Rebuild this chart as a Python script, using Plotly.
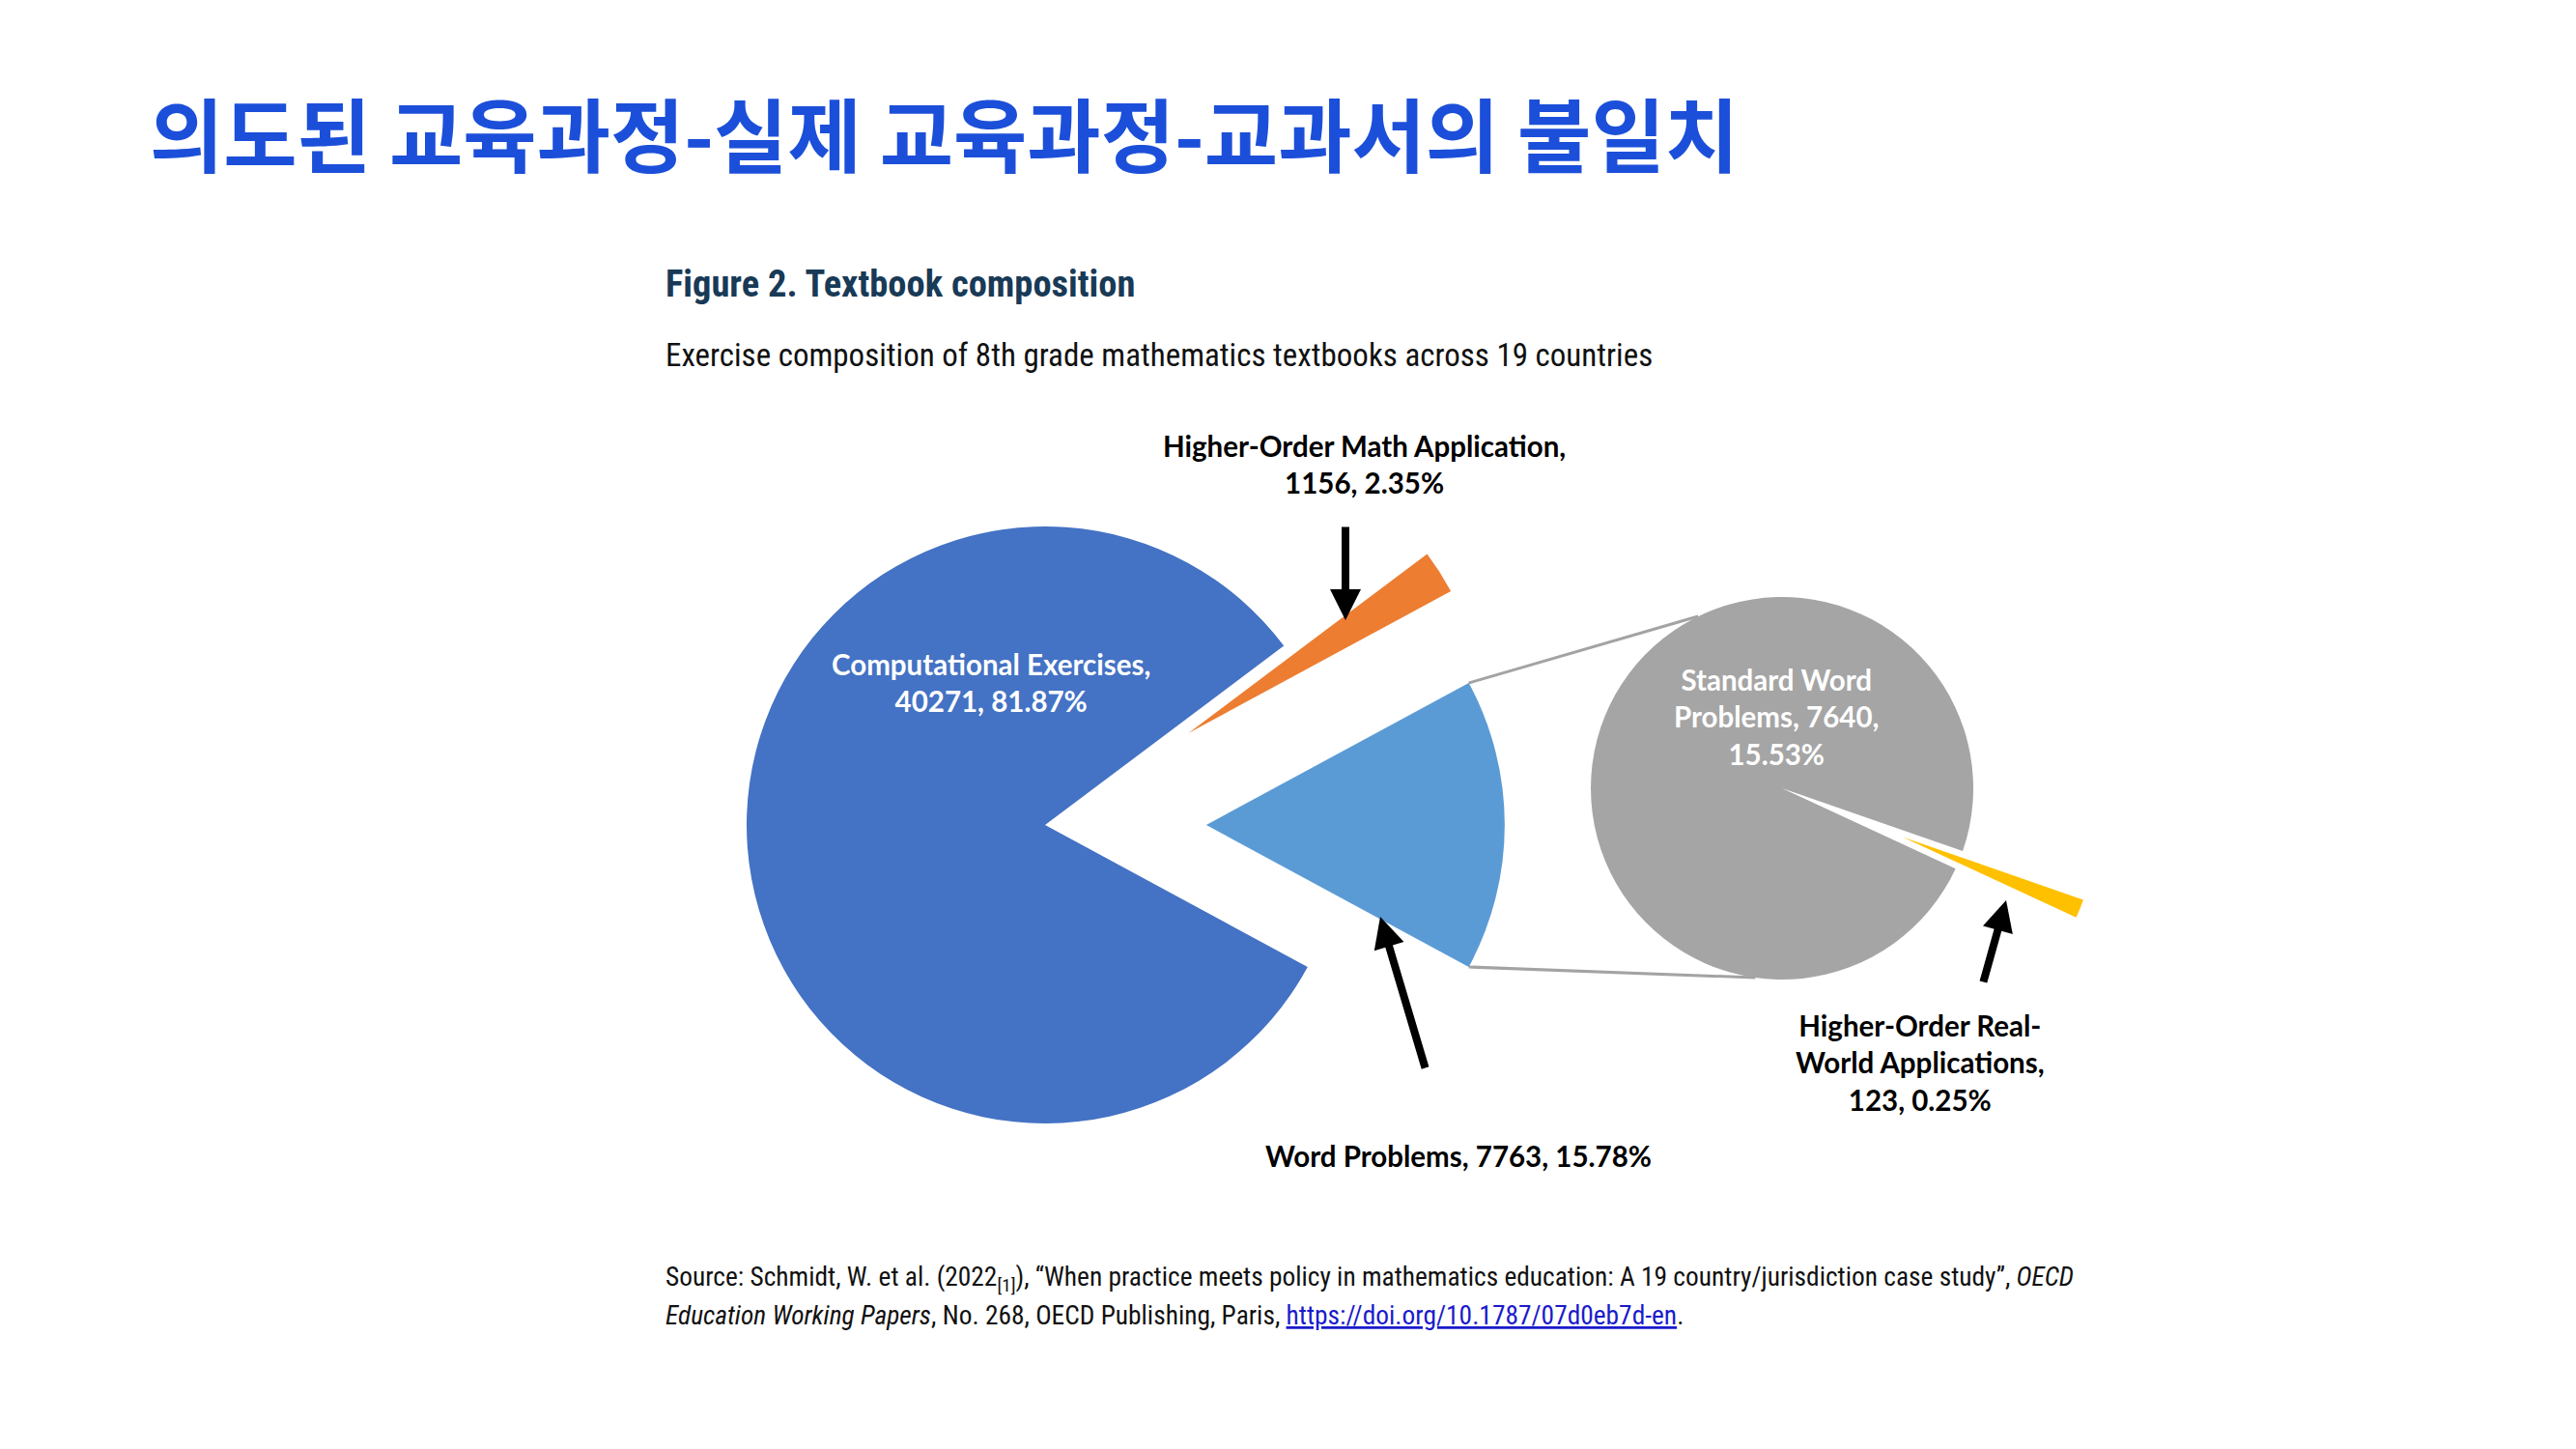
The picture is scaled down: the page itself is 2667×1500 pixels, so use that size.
import math
import plotly.graph_objects as go

# ---------------- data ----------------
main_labels = ["Word Problems", "Higher-Order Math Application", "Computational Exercises"]
main_values = [7763, 1156, 40271]
sub_labels = ["Higher-Order Real-World Applications", "Standard Word Problems"]
sub_values = [123, 7640]

page_title = "의도된 교육과정-실제 교육과정-교과서의 불일치"
fig_title = "Figure 2. Textbook composition"
fig_subtitle = "Exercise composition of 8th grade mathematics textbooks across 19 countries"
source_line1 = ("Source: Schmidt, W. et al. (2022<sub>[1]</sub>), \u201cWhen practice meets policy in "
                "mathematics education: A 19 country/jurisdiction case study\u201d, <i>OECD</i>")
source_line2_pre = "<i>Education Working Papers</i>, No. 268, OECD Publishing, Paris, "
source_url = "https://doi.org/10.1787/07d0eb7d-en"

# ---------------- style / layout ----------------
W, H = 2667, 1500
main_colors = ["#5B9BD5", "#ED7D31", "#4472C4"]
sub_colors = ["#FFC000", "#A5A5A5"]
main_pull = [0.54, 0.57, 0.0]
sub_pull = [0.68, 0.0]
main_center, main_r = (1082, 854), 309
sub_center, sub_r = (1845, 816), 198
sub_mid_angle = -22.0          # math degrees of the pulled small slice
conn_angles = (116.0, -98.0)   # where connectors touch the secondary pie

LABEL_FONT = "Lato, 'Open Sans', sans-serif"
NARROW_FONT = "'Liberation Sans Narrow', 'Arial Narrow', 'Roboto Condensed', 'Liberation Sans', sans-serif"


def px(x):
    return x / W


def py(y):
    return 1 - y / H


def domain_for(center, r, pulls):
    half = r * (1 + max(pulls))
    cx, cy = center
    return dict(x=[px(cx - half), px(cx + half)], y=[py(cy + half), py(cy - half)])


main_total = sum(main_values)
wp_span = 360.0 * main_values[0] / main_total
rot_main = 90.0 - wp_span / 2.0
sub_span = 360.0 * sub_values[0] / sum(sub_values)
rot_sub = 90.0 - (sub_mid_angle + sub_span / 2.0)

fig = go.Figure()
fig.add_trace(go.Pie(
    labels=main_labels, values=main_values, sort=False, direction="counterclockwise",
    rotation=rot_main, pull=main_pull, marker=dict(colors=main_colors, line=dict(width=0)),
    textinfo="none", hoverinfo="label+value+percent", showlegend=False,
    domain=domain_for(main_center, main_r, main_pull)))
fig.add_trace(go.Pie(
    labels=sub_labels, values=sub_values, sort=False, direction="counterclockwise",
    rotation=rot_sub, pull=sub_pull, marker=dict(colors=sub_colors, line=dict(width=0)),
    textinfo="none", hoverinfo="label+value", showlegend=False,
    domain=domain_for(sub_center, sub_r, sub_pull)))

# connector lines (computed from pie geometry)
apex_x = main_center[0] + main_pull[0] * main_r
apex_y = main_center[1]
shapes = []
for sign, ang in ((1, conn_angles[0]), (-1, conn_angles[1])):
    a0 = math.radians(sign * wp_span / 2.0)
    x0 = apex_x + main_r * math.cos(a0)
    y0 = apex_y - main_r * math.sin(a0)
    a1 = math.radians(ang)
    x1 = sub_center[0] + sub_r * math.cos(a1)
    y1 = sub_center[1] - sub_r * math.sin(a1)
    shapes.append(dict(type="line", xref="paper", yref="paper", x0=px(x0), y0=py(y0),
                       x1=px(x1), y1=py(y1), line=dict(color="#a3a3a3", width=3), layer="below"))


def pct(v):
    return f"{100.0 * v / main_total:.2f}%"


name_wrap = {
    "Standard Word Problems": "Standard Word<br>Problems",
    "Higher-Order Real-World Applications": "Higher-Order Real-<br>World Applications",
}
value_break = {
    "Word Problems": (", ", ", "),
    "Higher-Order Math Application": (",<br>", ", "),
    "Computational Exercises": (",<br>", ", "),
    "Standard Word Problems": (", ", ",<br>"),
    "Higher-Order Real-World Applications": (",<br>", ", "),
}


def label_text(name, value):
    s1, s2 = value_break[name]
    return f"<b>{name_wrap.get(name, name)}{s1}{value}{s2}{pct(value)}</b>"


label_pos = {
    "Word Problems": ((1510, 1196), "black"),
    "Higher-Order Math Application": ((1412, 480), "black"),
    "Computational Exercises": ((1026, 706), "white"),
    "Standard Word Problems": ((1839, 742), "white"),
    "Higher-Order Real-World Applications": ((1988, 1100), "black"),
}

annotations = []
for names, vals in ((main_labels, main_values), (sub_labels, sub_values)):
    for n, v in zip(names, vals):
        (lx, ly), col = label_pos[n]
        annotations.append(dict(x=px(lx), y=py(ly), xref="paper", yref="paper", showarrow=False,
                                text=label_text(n, v), align="center", xanchor="center",
                                yanchor="middle", font=dict(family=LABEL_FONT, size=29.5, color=col)))

# arrows (head, tail offset)
arrows = [((1393, 642), (0, -98)), ((1429, 949), (47, 158)), ((2077, 932), (-24, 86))]
for (hx, hy), (ax, ay) in arrows:
    annotations.append(dict(x=px(hx), y=py(hy), xref="paper", yref="paper", ax=ax, ay=ay,
                            axref="pixel", ayref="pixel", showarrow=True, arrowhead=2,
                            arrowsize=0.8, arrowwidth=8, arrowcolor="black", standoff=0,
                            text=""))

# titles and source
annotations += [
    dict(x=px(153), y=py(136), xref="paper", yref="paper", showarrow=False, xanchor="left",
         yanchor="middle", text=f"<b>{page_title}</b>",
         font=dict(family="'Noto Sans CJK KR', sans-serif", size=83, color="#1c4fd9")),
    dict(x=px(687), y=py(293), xref="paper", yref="paper", showarrow=False, xanchor="left",
         yanchor="middle", text=f"<b>{fig_title}</b>",
         font=dict(family=NARROW_FONT, size=38.5, color="#183a57")),
    dict(x=px(687), y=py(367), xref="paper", yref="paper", showarrow=False, xanchor="left",
         yanchor="middle", text=fig_subtitle,
         font=dict(family=NARROW_FONT, size=33, color="#111111")),
    dict(x=px(687), y=py(1324), xref="paper", yref="paper", showarrow=False, xanchor="left",
         yanchor="middle", text=source_line1,
         font=dict(family=NARROW_FONT, size=27.4, color="#111111")),
    dict(x=px(687), y=py(1362), xref="paper", yref="paper", showarrow=False, xanchor="left",
         yanchor="middle",
         text=(source_line2_pre + f"<a href='{source_url}'><span style='color:#1a1acc'><u>"
               f"{source_url}</u></span></a>."),
         font=dict(family=NARROW_FONT, size=27.4, color="#111111")),
]

fig.update_layout(width=W, height=H, margin=dict(l=0, r=0, t=0, b=0),
                  paper_bgcolor="white", plot_bgcolor="white",
                  shapes=shapes, annotations=annotations, showlegend=False)

fig.write_html("out.html")
